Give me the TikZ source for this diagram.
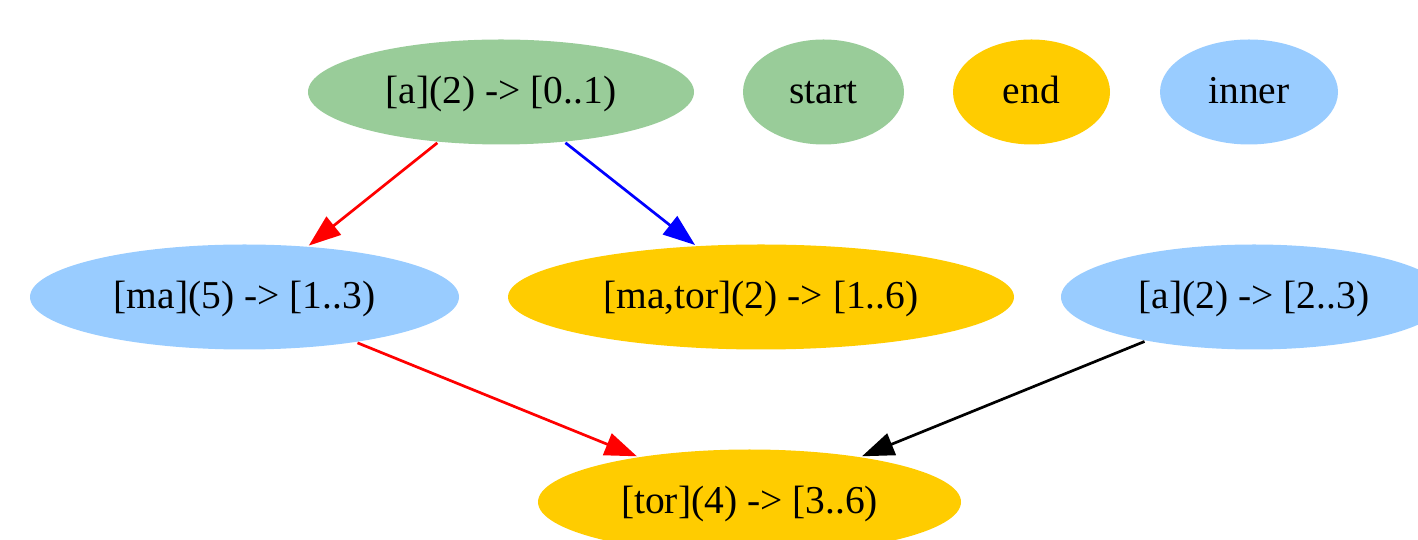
\documentclass[tikz,border=0pt]{standalone}
\usepackage{fontspec}
\setmainfont{Liberation Serif}
\usetikzlibrary{arrows.meta,shapes.geometric}
\definecolor{startgreen}{HTML}{99CC99}
\definecolor{endyellow}{HTML}{FFCC00}
\definecolor{innerblue}{HTML}{99CCFF}

\begin{document}
\begin{tikzpicture}[x=1pt, y=1pt, >={Triangle[length=32pt,width=23pt]}, line width=2.7pt,
    state/.style={ellipse, inner sep=0pt, minimum height=105pt,
        text height=27pt, text depth=4pt,
        font=\fontsize{39.5}{44}\selectfont},
    startstate/.style={state, fill=startgreen},
    endstate/.style={state, fill=endyellow},
    innerstate/.style={state, fill=innerblue}]
    \clip (0,0) rectangle (1418,540);

    % 第一行：起点与图例
    \node[startstate, minimum width=386pt] (a01) at (501,448) {[a](2) -> [0..1)};
    \node[startstate, minimum width=161pt] (legstart) at (823.5,448) {start};
    \node[endstate, minimum width=157pt] (legend) at (1031.5,448) {end};
    \node[innerstate, minimum width=178pt] (leginner) at (1249,448) {inner};

    % 第二行
    \node[innerstate, minimum width=429pt] (ma13) at (244.5,243) {[ma](5) -> [1..3)};
    \node[endstate, minimum width=506pt] (mator16) at (761,243) {[ma,tor](2) -> [1..6)};
    \node[innerstate, minimum width=386pt] (a23) at (1254,243) {[a](2) -> [2..3)};

    % 第三行
    \node[endstate, minimum width=423pt] (tor36) at (749.5,38) {[tor](4) -> [3..6)};

    % 转移
    \draw[->, red] (a01) -- (ma13);
    \draw[->, blue] (a01) -- (mator16);
    \draw[->, red] (ma13) -- (tor36);
    \draw[->] (a23) -- (tor36);
\end{tikzpicture}
\end{document}
